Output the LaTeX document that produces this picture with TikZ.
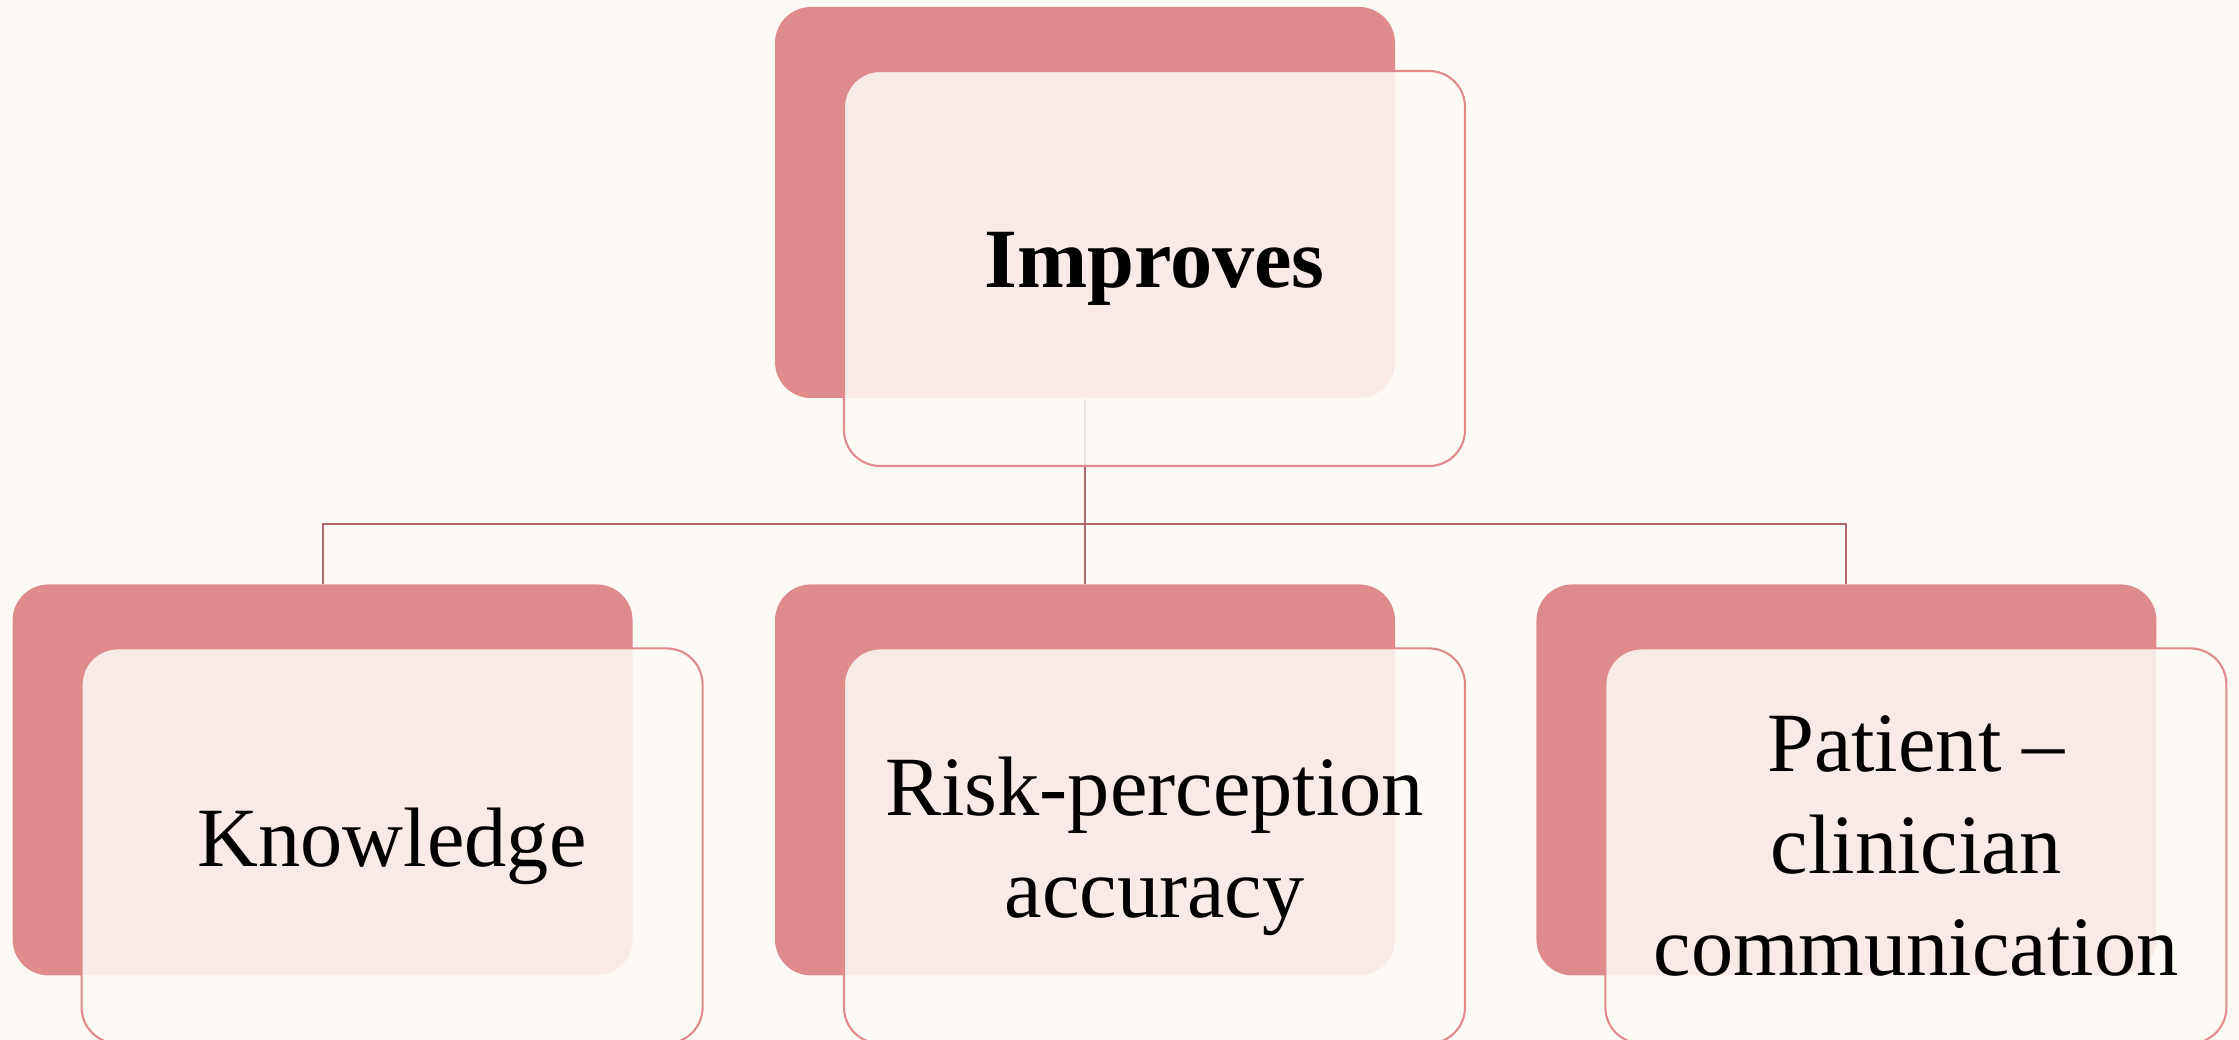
\documentclass[tikz,border=0pt]{standalone}
\usepackage{fontspec}
\setmainfont{Liberation Serif}
\usetikzlibrary{positioning}

\definecolor{paper}{HTML}{FDFAF5}
\definecolor{rose}{HTML}{DF8B8C}
\definecolor{stem}{HTML}{B0686B}

\begin{document}
\begin{tikzpicture}[
        backbox/.style={
                rectangle,
                rounded corners=0.36cm,
                fill=rose,
                minimum width=6.2cm,
                minimum height=3.91cm
            },
        frontbox/.style={
                rectangle,
                rounded corners=0.36cm,
                draw=rose,
                line width=0.6pt,
                fill=paper,
                fill opacity=0.86,
                text opacity=1,
                minimum width=6.21cm,
                minimum height=3.95cm,
                align=center,
                font=\fontsize{24}{29}\selectfont
            },
        link/.style={draw=stem, line width=0.6pt}
    ]
    \fill[paper] (0,0) rectangle (22.39,-10.40);
    \useasboundingbox (0,0) rectangle (22.39,-10.40);

    \node[backbox] (improves) at (10.85,-2.025) {};
    \node[backbox] (risk) [below=1.85cm of improves] {};
    \node[backbox] (knowledge) [left=1.41cm of risk] {};
    \node[backbox] (communication) [right=1.40cm of risk] {};

    % connectors
    \coordinate (bar) at (10.85,-5.24);
    \draw[link] (improves.south) -- (bar);
    \draw[link] (knowledge.north) |- (bar) -| (communication.north);
    \draw[link] (bar) -- (risk.north);

    \node[frontbox, font=\fontsize{24}{29}\selectfont\bfseries] (improves_text) at ([xshift=0.695cm,yshift=-0.66cm]improves.center) {Improves};
    \node[frontbox] (knowledge_text) at ([xshift=0.695cm,yshift=-0.66cm]knowledge.center) {Knowledge};
    \node[frontbox] (risk_text) at ([xshift=0.695cm,yshift=-0.66cm]risk.center) {Risk-perception\\accuracy};
    \node[frontbox] (communication_text) at ([xshift=0.695cm,yshift=-0.66cm]communication.center) {Patient --\\clinician\\communication};
\end{tikzpicture}
\end{document}
